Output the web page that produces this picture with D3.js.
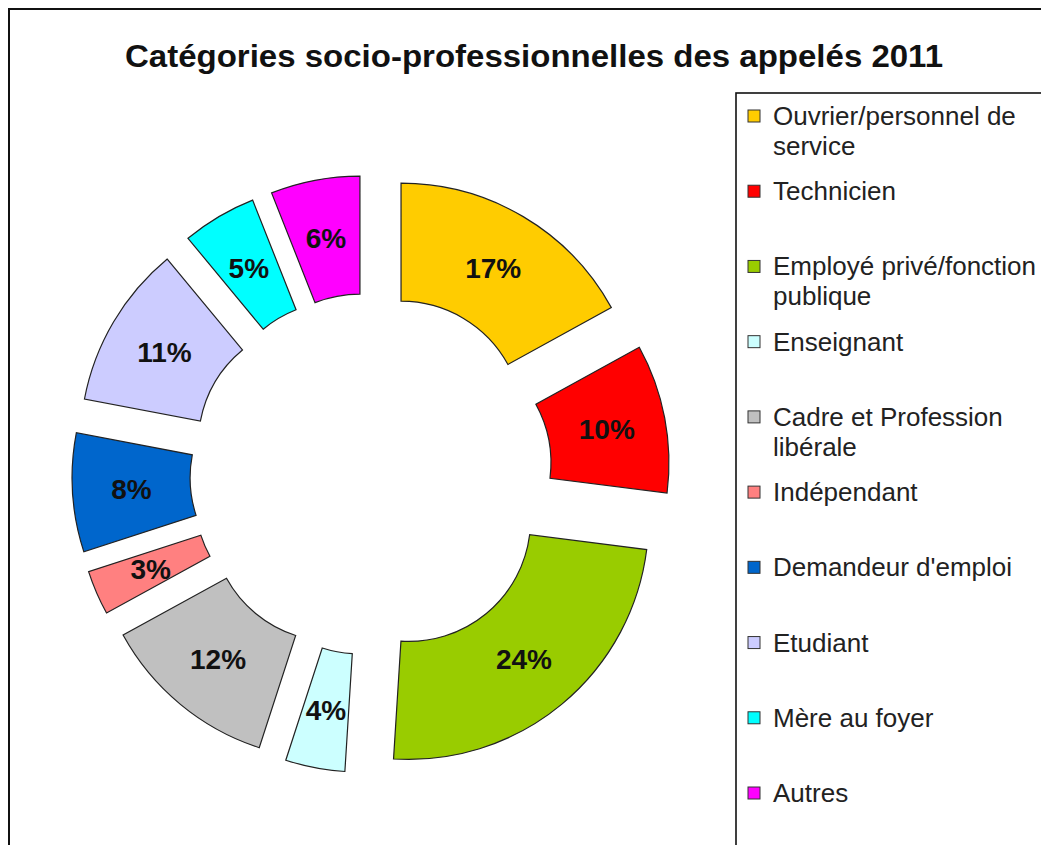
<!DOCTYPE html>
<html>
<head>
<meta charset="utf-8">
<script src="https://cdn.jsdelivr.net/npm/d3@7"></script>
<style>
  html, body { margin: 0; padding: 0; background: #fff; }
  svg { display: block; }
</style>
</head>
<body>
<svg id="chart" width="1041" height="845"></svg>
<script>
// ---- data ----
const title = "Catégories socio-professionnelles des appelés 2011";
const categories = [
  "Ouvrier/personnel de\nservice",
  "Technicien",
  "Employé privé/fonction\npublique",
  "Enseignant",
  "Cadre et Profession\nlibérale",
  "Indépendant",
  "Demandeur d'emploi",
  "Etudiant",
  "Mère au foyer",
  "Autres"
];
const values = [17, 10, 24, 4, 12, 3, 8, 11, 5, 6];
const colors = ["#ffcc00", "#ff0000", "#99cc00", "#ccffff", "#c0c0c0",
                "#ff8080", "#0066cc", "#ccccff", "#00ffff", "#ff00ff"];

// ---- layout ----
const W = 1041, H = 845;
const cx = 371, cy = 474;
const rInner = 122, rOuter = 240, explode = 59;

const svg = d3.select("#chart");

// outer frame
svg.append("rect")
  .attr("x", 9).attr("y", 9)
  .attr("width", W + 20).attr("height", H + 20)
  .attr("fill", "#fff").attr("stroke", "#111").attr("stroke-width", 2);

// title
svg.append("text")
  .attr("x", 534).attr("y", 67)
  .attr("text-anchor", "middle")
  .attr("font-family", "Liberation Sans, Arial, sans-serif")
  .attr("font-weight", "bold")
  .attr("font-size", 31)
  .attr("fill", "#111")
  .attr("textLength", 818)
  .attr("lengthAdjust", "spacingAndGlyphs")
  .text(title);

// pie
const pie = d3.pie().sort(null).value(d => d).startAngle(0).endAngle(2 * Math.PI);
const arcs = pie(values);
const arc = d3.arc().innerRadius(rInner).outerRadius(rOuter);

const g = svg.append("g").attr("transform", `translate(${cx},${cy})`);
const slices = g.selectAll("g.slice").data(arcs).enter().append("g")
  .attr("class", "slice")
  .attr("transform", d => {
    const m = (d.startAngle + d.endAngle) / 2;
    return `translate(${explode * Math.sin(m)},${-explode * Math.cos(m)})`;
  });

slices.append("path")
  .attr("d", arc)
  .attr("fill", (d, i) => colors[i])
  .attr("stroke", "#222")
  .attr("stroke-width", 1.2);

const total = d3.sum(values);
slices.append("text")
  .attr("transform", d => `translate(${arc.centroid(d)})`)
  .attr("text-anchor", "middle")
  .attr("dy", "0.36em")
  .attr("font-family", "Liberation Sans, Arial, sans-serif")
  .attr("font-weight", "bold")
  .attr("font-size", 28)
  .attr("fill", "#111")
  .text(d => d3.format(".0%")(d.value / total));

// legend
const legX = 736, legY = 93;
svg.append("rect")
  .attr("x", legX).attr("y", legY)
  .attr("width", 400).attr("height", 800)
  .attr("fill", "#fff").attr("stroke", "#111").attr("stroke-width", 1.6);

const rowY = d3.scaleLinear().domain([0, categories.length - 1]).range([116, 793]);
const leg = svg.selectAll("g.leg").data(categories).enter().append("g")
  .attr("class", "leg")
  .attr("transform", (d, i) => `translate(0,${rowY(i)})`);

leg.append("rect")
  .attr("x", 748).attr("y", -6)
  .attr("width", 12).attr("height", 12)
  .attr("fill", (d, i) => colors[i])
  .attr("stroke", "#333").attr("stroke-width", 1);

leg.append("text")
  .attr("x", 773).attr("y", 9)
  .attr("font-family", "Liberation Sans, Arial, sans-serif")
  .attr("font-size", 26)
  .attr("fill", "#222")
  .each(function(d) {
    const lines = d.split("\n");
    const t = d3.select(this);
    lines.forEach((line, k) => {
      t.append("tspan").attr("x", 773).attr("dy", k === 0 ? 0 : 30).text(line);
    });
  });
</script>
</body>
</html>
